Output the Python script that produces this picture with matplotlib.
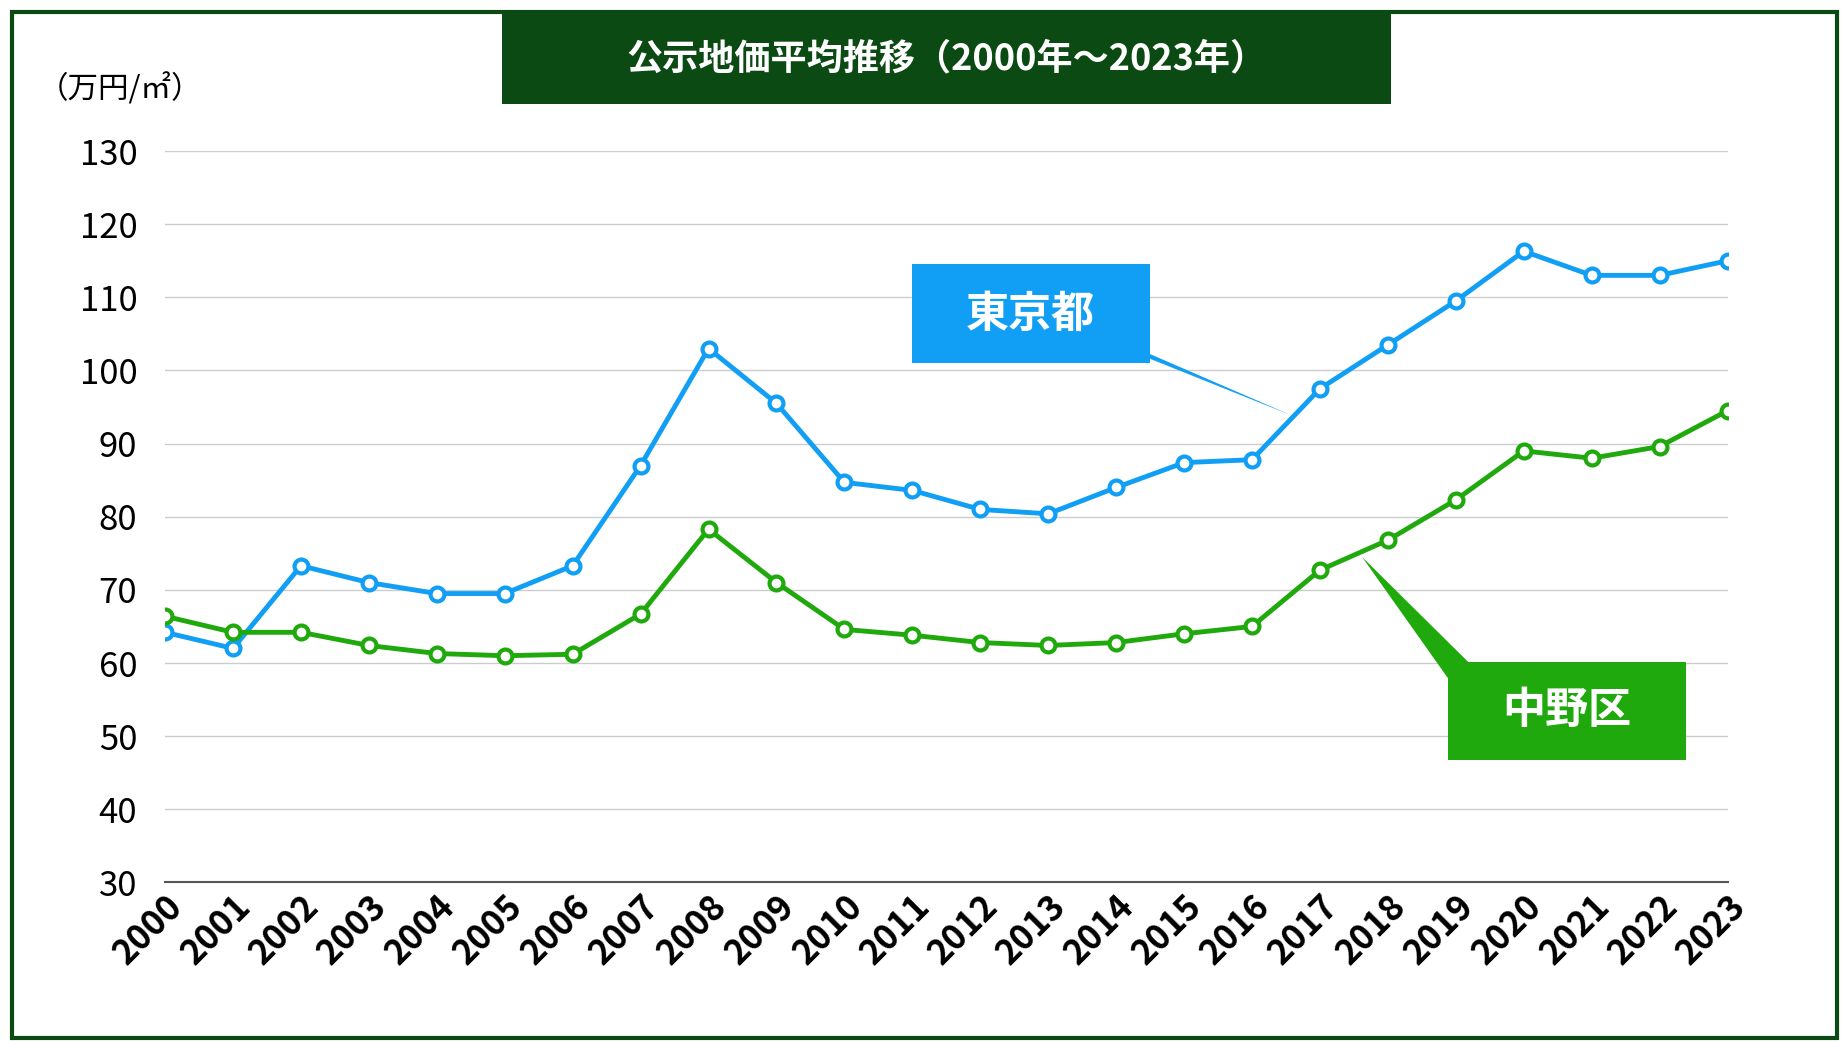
import matplotlib
matplotlib.use("Agg")
import matplotlib.pyplot as plt
from matplotlib.patches import Rectangle, Polygon

plt.rcParams["font.family"] = ["Noto Sans CJK JP"]

years = list(range(2000, 2024))
tokyo = [64.2, 62.0, 73.3, 71.0, 69.5, 69.5, 73.3, 87.0, 103.0, 95.5, 84.7, 83.6,
         81.0, 80.4, 84.0, 87.4, 87.8, 97.5, 103.5, 109.5, 116.3, 113.0, 113.0, 115.0]
nakano = [66.4, 64.2, 64.2, 62.4, 61.3, 61.0, 61.2, 66.7, 78.3, 71.0, 64.6, 63.8,
          62.8, 62.4, 62.8, 64.0, 65.0, 72.7, 76.8, 82.3, 89.0, 88.0, 89.6, 94.5]
yticks = list(range(30, 131, 10))

TOKYO_C = "#119ff5"
NAKANO_C = "#20a90c"
W, H = 1568, 890  # reference layout units

fig = plt.figure(figsize=(18.49, 10.5), dpi=100)
ax = fig.add_axes([140 / W, 1 - 748 / H, 1325 / W, 620 / H])


def fx(x):
    return x / W


def fy(y):
    return 1 - y / H


# frame
fig.patches.append(Rectangle((fx(10), fy(880)), fx(1548), 870 / H, transform=fig.transFigure,
                             fill=False, edgecolor="#0b4a12", linewidth=3))
# title box
fig.patches.append(Rectangle((fx(426), fy(88)), fx(754), 76 / H, transform=fig.transFigure,
                             facecolor="#0b4a12", edgecolor="none"))
fig.text(fx(803), fy(50), "公示地価平均推移（2000年〜2023年）", color="white", fontsize=26,
         fontweight="bold", ha="center", va="center")
fig.text(fx(32), fy(76), "（万円/㎡）", fontsize=22, ha="left", va="center")

ax.plot(years, tokyo, color=TOKYO_C, linewidth=3.5, marker="o", markersize=10,
        markerfacecolor="white", markeredgewidth=3, zorder=3)
ax.plot(years, nakano, color=NAKANO_C, linewidth=3.5, marker="o", markersize=10,
        markerfacecolor="white", markeredgewidth=3, zorder=3)

ax.set_xlim(2000, 2023)
ax.set_ylim(30, 130)
ax.set_yticks(yticks)
ax.set_xticks(years)
ax.set_xticklabels([str(y) for y in years], rotation=45, ha="right", rotation_mode="anchor",
                   fontsize=25, fontweight="bold")
ax.tick_params(axis="y", labelsize=25, length=0, pad=20)
ax.tick_params(axis="x", length=0, pad=4)
for lbl in ax.get_xticklabels():
    lbl.set_x(lbl.get_position()[0])
ax.grid(axis="y", color="#cccccc", linewidth=1)
for s in ["top", "right", "left"]:
    ax.spines[s].set_visible(False)
ax.spines["bottom"].set_color("#555555")
ax.spines["bottom"].set_linewidth(1.5)
ax.set_axisbelow(True)

# callouts
fig.patches.append(Polygon([(fx(940), fy(290)), (fx(975), fy(300)), (fx(1095), fy(352))],
                           closed=True, transform=fig.transFigure, facecolor=TOKYO_C,
                           edgecolor="none"))
fig.patches.append(Rectangle((fx(773), fy(308)), fx(202), 84 / H, transform=fig.transFigure,
                             facecolor=TOKYO_C, edgecolor="none"))
fig.text(fx(874), fy(266), "東京都", color="white", fontsize=31, fontweight="bold",
         ha="center", va="center")

fig.patches.append(Polygon([(fx(1228), fy(575)), (fx(1245), fy(561)), (fx(1155), fy(472))],
                           closed=True, transform=fig.transFigure, facecolor=NAKANO_C,
                           edgecolor="none"))
fig.patches.append(Rectangle((fx(1228), fy(644)), fx(202), 83 / H, transform=fig.transFigure,
                             facecolor=NAKANO_C, edgecolor="none"))
fig.text(fx(1329), fy(602), "中野区", color="white", fontsize=31, fontweight="bold",
         ha="center", va="center")

fig.savefig("out.png", dpi=100, facecolor="white")
